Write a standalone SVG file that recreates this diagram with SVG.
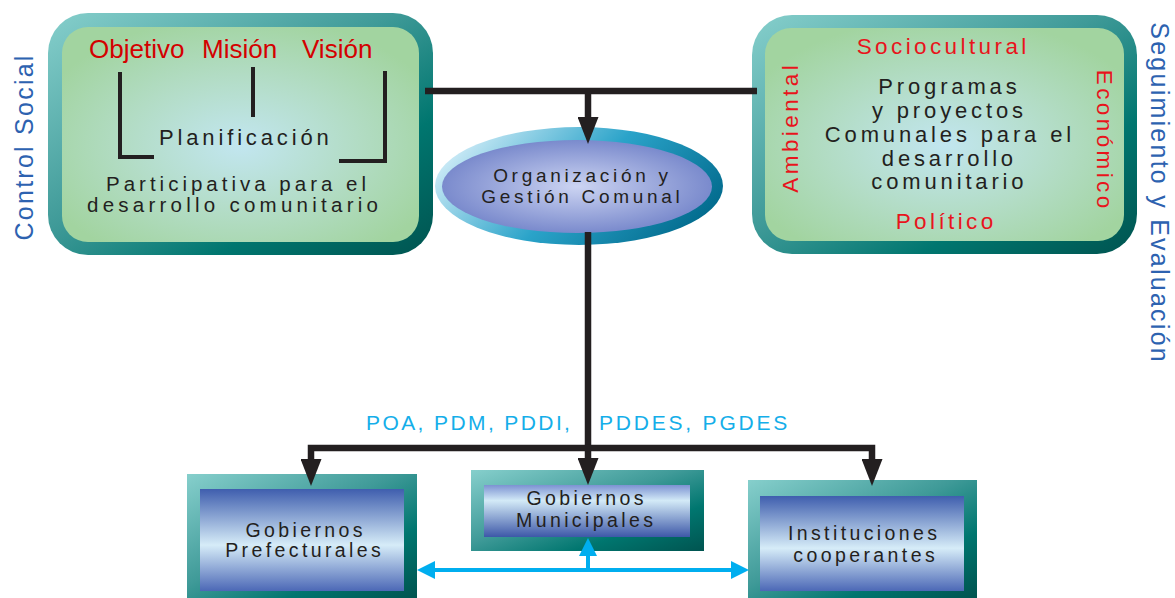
<svg xmlns="http://www.w3.org/2000/svg" width="1175" height="598" viewBox="0 0 1175 598">
<style>
.t{font-family:"Liberation Sans",Arial,sans-serif;fill:#231f20}
.red{font-family:"Liberation Sans",Arial,sans-serif;fill:#e8141c;font-size:22.5px;letter-spacing:3.4px}
.side{font-family:"Liberation Sans",Arial,sans-serif;fill:#2d62b0;font-size:25px;letter-spacing:2.25px}
.ctr{font-size:22px;letter-spacing:3.85px}
.bot{font-size:19.5px;letter-spacing:3.4px}
.code{font-family:"Liberation Sans",Arial,sans-serif;fill:#14aee9;font-size:21px}
.blk{fill:none;stroke:#231f20;stroke-width:6.5}
.blu{fill:none;stroke:#00aeef;stroke-width:4}
.br{fill:none;stroke:#231f20;stroke-width:4}
</style>
<defs>
<linearGradient id="teal" x1="0" y1="0" x2="1" y2="1">
<stop offset="0" stop-color="#86cfcc"/>
<stop offset="0.45" stop-color="#3f9a98"/>
<stop offset="0.72" stop-color="#00766f"/>
<stop offset="1" stop-color="#005450"/>
</linearGradient>
<radialGradient id="green" cx="0.5" cy="0.55" r="0.6">
<stop offset="0" stop-color="#c2e6f0"/>
<stop offset="0.55" stop-color="#b2dcc4"/>
<stop offset="1" stop-color="#a2d4a0"/>
</radialGradient>
<linearGradient id="blueA" x1="0" y1="0" x2="0" y2="1">
<stop offset="0" stop-color="#3f5eae"/>
<stop offset="0.55" stop-color="#d6ecf8"/>
<stop offset="1" stop-color="#4c68b6"/>
</linearGradient>
<linearGradient id="blueB" x1="0" y1="0" x2="0" y2="1">
<stop offset="0" stop-color="#7c92d2"/>
<stop offset="0.3" stop-color="#d3eaf7"/>
<stop offset="1" stop-color="#3d58a8"/>
</linearGradient>
<linearGradient id="ring" x1="0" y1="0.3" x2="1" y2="0.7">
<stop offset="0" stop-color="#d2edf8"/>
<stop offset="0.5" stop-color="#2aa3c9"/>
<stop offset="1" stop-color="#00688a"/>
</linearGradient>
<radialGradient id="lav" cx="0.5" cy="0.5" r="0.55">
<stop offset="0" stop-color="#ccd4f2"/>
<stop offset="1" stop-color="#7283c9"/>
</radialGradient>
<marker id="ab" viewBox="0 0 27 21" refX="0" refY="10.5" markerWidth="27" markerHeight="21" markerUnits="userSpaceOnUse" orient="auto-start-reverse">
<path d="M0,0 L27,10.5 L0,21 Z" fill="#231f20"/>
</marker>
<marker id="au" viewBox="0 0 18 18" refX="0" refY="9" markerWidth="18" markerHeight="18" markerUnits="userSpaceOnUse" orient="auto-start-reverse">
<path d="M0,0 L18,9 L0,18 Z" fill="#00aeef"/>
</marker>
</defs>

<g id="labels-side">
<text class="side" transform="translate(32.5,148) rotate(-90)" text-anchor="middle" x="1.1">Control Social</text>
<text class="side" transform="translate(1151,192) rotate(90)" text-anchor="middle" x="1.1">Seguimiento y Evaluación</text>
</g>

<g id="planificacion">
<rect x="48" y="13" width="385" height="242" rx="40" fill="url(#teal)"/>
<rect x="62" y="27" width="357" height="215" rx="26" fill="url(#green)"/>
<text class="t" x="89" y="58" font-size="26" fill="#d40000" style="fill:#d40000">Objetivo</text>
<text class="t" x="202" y="58" font-size="26" style="fill:#d40000">Misión</text>
<text class="t" x="302" y="58" font-size="26" style="fill:#d40000">Visión</text>
<path class="br" d="M120,72 V157 H154"/>
<path class="br" d="M253,67 V117"/>
<path class="br" d="M339,161 H385 V71"/>
<text class="t ctr" x="159" y="145">Planificación</text>
<text class="t" x="106" y="191" font-size="20.5" letter-spacing="4">Participativa para el</text>
<text class="t" x="87" y="212" font-size="20.5" letter-spacing="4.25">desarrollo comunitario</text>
</g>

<g id="organizacion">
<ellipse cx="579" cy="186" rx="144" ry="59" fill="url(#ring)"/>
<ellipse cx="577" cy="186.5" rx="135" ry="46.5" fill="url(#lav)"/>
<text class="t" x="582.4" y="182" font-size="19" letter-spacing="3.7" text-anchor="middle">Organización y</text>
<text class="t" x="582.4" y="203" font-size="19" letter-spacing="3.7" text-anchor="middle">Gestión Comunal</text>
</g>

<g id="programas">
<rect x="752" y="15" width="385" height="239" rx="40" fill="url(#teal)"/>
<rect x="765" y="28" width="359" height="213" rx="26" fill="url(#green)"/>
<text class="red" x="943.2" y="54" text-anchor="middle">Sociocultural</text>
<text class="red" x="946.2" y="229" text-anchor="middle">Político</text>
<text class="red" transform="translate(798,129) rotate(-90)" x="1.7" text-anchor="middle">Ambiental</text>
<text class="red" transform="translate(1097,139) rotate(90)" x="1.7" text-anchor="middle">Económico</text>
<g class="t ctr" text-anchor="middle">
<text x="949.4" y="94">Programas</text>
<text x="949.4" y="118">y proyectos</text>
<text x="949.9" y="142">Comunales para el</text>
<text x="949.4" y="166">desarrollo</text>
<text x="949.4" y="189">comunitario</text>
</g>
</g>

<g id="prefecturales">
<rect x="187" y="474" width="230" height="124" fill="url(#teal)"/>
<rect x="200" y="489" width="204" height="102" fill="url(#blueA)"/>
<text class="t bot" x="305.7" y="537" text-anchor="middle">Gobiernos</text>
<text class="t bot" x="304.7" y="557" text-anchor="middle">Prefecturales</text>
</g>

<g id="municipales">
<rect x="471" y="470" width="233" height="81" fill="url(#teal)"/>
<rect x="484" y="485" width="206" height="52" fill="url(#blueB)"/>
<text class="t bot" x="586.7" y="505" text-anchor="middle">Gobiernos</text>
<text class="t bot" x="586.2" y="527" text-anchor="middle">Municipales</text>
</g>

<g id="instituciones">
<rect x="748" y="480" width="229" height="118" fill="url(#teal)"/>
<rect x="760" y="496" width="204" height="95" fill="url(#blueA)"/>
<text class="t bot" x="864.2" y="540" text-anchor="middle">Instituciones</text>
<text class="t bot" x="865.7" y="562" text-anchor="middle">cooperantes</text>
</g>

<g id="connectors">
<path class="blk" d="M425,91 H757"/>
<path class="blk" d="M588,91 V117" marker-end="url(#ab)"/>
<path class="blk" d="M588,232 V458" marker-end="url(#ab)"/>
<path class="blk" d="M311,459 V448 H872 V459" marker-start="url(#ab)" marker-end="url(#ab)"/>
<path class="blu" d="M435,570 H731" marker-start="url(#au)" marker-end="url(#au)"/>
<path class="blu" d="M588,570 V556" marker-end="url(#au)"/>
<text class="code" x="366" y="430" letter-spacing="2.4">POA, PDM, PDDI,</text>
<text class="code" x="599" y="430" letter-spacing="2.8">PDDES, PGDES</text>
</g>
</svg>
